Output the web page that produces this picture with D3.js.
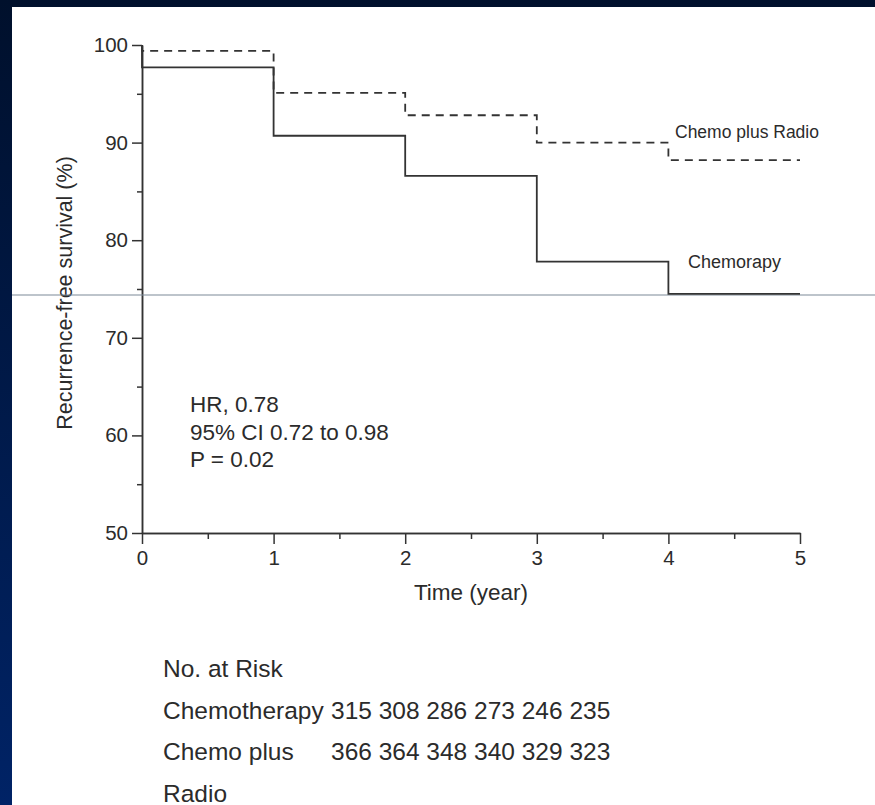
<!DOCTYPE html>
<html>
<head>
<meta charset="utf-8">
<script src="https://cdn.jsdelivr.net/npm/d3@7"></script>
<style>
  html, body { margin: 0; padding: 0; }
  body { width: 875px; height: 805px; overflow: hidden; }
  text { font-family: "Liberation Sans", Arial, sans-serif; fill: #2b2b2b; }
</style>
</head>
<body>
<svg id="chart" width="875" height="805"></svg>
<script>
// survival steps, value at start of each year interval
const years = [0, 1, 2, 3, 4, 5];
const chemo = [97.7, 90.7, 86.6, 77.8, 74.5, 74.5];
const chemoRadio = [99.4, 95.1, 92.8, 90.0, 88.2, 88.2];
const yTicks = [50, 60, 70, 80, 90, 100];
const yMinor = [55, 65, 75, 85, 95];
const xTicks = [0, 1, 2, 3, 4, 5];
const xMinor = [0.5, 1.5, 2.5, 3.5, 4.5];
const riskChemo = [315, 308, 286, 273, 246, 235];
const riskChemoRadio = [366, 364, 348, 340, 329, 323];
const statsLines = ["HR, 0.78", "95% CI 0.72 to 0.98", "P = 0.02"];

const svg = d3.select("#chart");

// dark slide background
const defs = svg.append("defs");
const grad = defs.append("linearGradient")
    .attr("id", "bg").attr("x1", 0).attr("y1", 0).attr("x2", 0).attr("y2", 1);
grad.append("stop").attr("offset", "0%").attr("stop-color", "#00102c");
grad.append("stop").attr("offset", "100%").attr("stop-color", "#002366");
svg.append("rect").attr("width", 875).attr("height", 805).attr("fill", "url(#bg)");
svg.append("rect").attr("x", 12).attr("y", 7).attr("width", 863).attr("height", 798).attr("fill", "#ffffff");

let x = d3.scaleLinear().domain([0, 5]).range([142, 800]);
let y = d3.scaleLinear().domain([50, 100]).range([533, 45]);

// axes
function styleAxis(g) {
    g.selectAll("path, line").attr("stroke", "#333").attr("stroke-width", 1.5);
    g.selectAll("text").style("font-size", "20.5px").attr("fill", "#2b2b2b");
}
svg.append("g")
    .attr("transform", "translate(" + x(0) + ",0)")
    .call(d3.axisLeft(y).tickValues(yTicks).tickSize(10).tickPadding(4).tickSizeOuter(0))
    .call(styleAxis);
svg.append("g")
    .attr("transform", "translate(" + x(0) + ",0)")
    .call(d3.axisLeft(y).tickValues(yMinor).tickSize(5).tickFormat("").tickSizeOuter(0))
    .call(styleAxis);
svg.append("g")
    .attr("transform", "translate(0," + y(50) + ")")
    .call(d3.axisBottom(x).tickValues(xTicks).tickFormat(d3.format("d")).tickSize(11).tickPadding(6).tickSizeOuter(0))
    .call(styleAxis);
svg.append("g")
    .attr("transform", "translate(0," + y(50) + ")")
    .call(d3.axisBottom(x).tickValues(xMinor).tickSize(6).tickFormat("").tickSizeOuter(0))
    .call(styleAxis);

// axis titles
svg.append("text")
    .attr("x", (x(0) + x(5)) / 2).attr("y", 600)
    .attr("text-anchor", "middle").style("font-size", "22.5px")
    .text("Time (year)");
svg.append("text")
    .attr("transform", "translate(72,293) rotate(-90)")
    .attr("text-anchor", "middle").style("font-size", "21.5px")
    .text("Recurrence-free survival (%)");

// gray slide guide line
svg.append("line")
    .attr("x1", 12).attr("x2", 875).attr("y1", 295).attr("y2", 295)
    .attr("stroke", "#7d8a98").attr("stroke-width", 1.2);

// step curves
function stepData(vals) {
    let pts = [[0, 100]];
    vals.forEach((v, i) => pts.push([years[i], v]));
    return pts;
}
let line = d3.line()
    .x(d => x(d[0]))
    .y(d => y(d[1]))
    .curve(d3.curveStepAfter);

svg.append("path")
    .datum(stepData(chemo))
    .attr("d", line)
    .attr("fill", "none").attr("stroke", "#333").attr("stroke-width", 1.8);

svg.append("path")
    .datum(stepData(chemoRadio))
    .attr("d", line)
    .attr("fill", "none").attr("stroke", "#333").attr("stroke-width", 1.8)
    .attr("stroke-dasharray", "8,6");

// curve labels
svg.append("text").attr("x", 675).attr("y", 138).style("font-size", "17.5px").text("Chemo plus Radio");
svg.append("text").attr("x", 688).attr("y", 268).style("font-size", "18px").text("Chemorapy");

// stats
svg.selectAll(".stat")
    .data(statsLines)
    .enter()
    .append("text")
    .attr("class", "stat")
    .attr("x", 190)
    .attr("y", (d, i) => 412 + i * 27.5)
    .style("font-size", "22.5px")
    .text(d => d);

// risk table
let riskRows = [
    {label: "No. at Risk", nums: []},
    {label: "Chemotherapy", nums: riskChemo},
    {label: "Chemo plus", nums: riskChemoRadio},
    {label: "Radio", nums: []}
];
riskRows.forEach((r, i) => {
    let yy = 677 + i * 41.5;
    svg.append("text").attr("x", 163).attr("y", yy).style("font-size", "24.5px").text(r.label);
    if (r.nums.length) {
        svg.append("text").attr("x", 331).attr("y", yy).style("font-size", "24.5px").text(r.nums.join(" "));
    }
});
</script>
</body>
</html>
